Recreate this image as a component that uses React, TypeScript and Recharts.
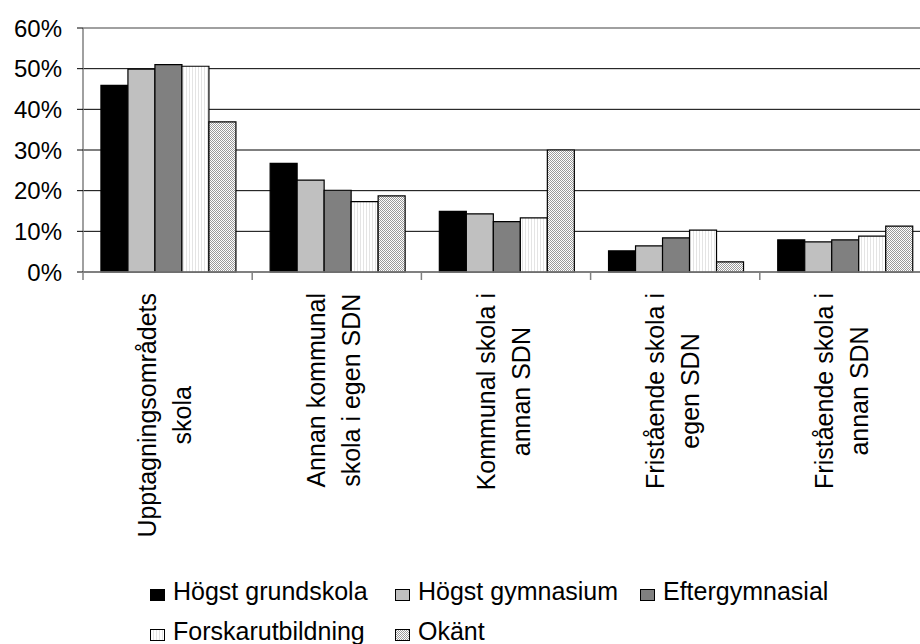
import React from 'react';
import { BarChart, Bar, XAxis, YAxis, CartesianGrid, ReferenceLine } from 'recharts';

const categories = [
  'Upptagningsområdets skola',
  'Annan kommunal skola i egen SDN',
  'Kommunal skola i annan SDN',
  'Fristående skola i egen SDN',
  'Fristående skola i annan SDN',
];

// how each category label is broken into lines
const categoryLines = [
  ['Upptagningsområdets', 'skola'],
  ['Annan kommunal', 'skola i egen SDN'],
  ['Kommunal skola i', 'annan SDN'],
  ['Fristående skola i', 'egen SDN'],
  ['Fristående skola i', 'annan SDN'],
];

const seriesNames = ['Högst grundskola', 'Högst gymnasium', 'Eftergymnasial', 'Forskarutbildning', 'Okänt'];

const grundskola = [45.9, 26.7, 14.9, 5.2, 7.9];
const gymnasium = [49.9, 22.6, 14.3, 6.4, 7.4];
const eftergymnasial = [51.0, 20.1, 12.4, 8.4, 7.9];
const forskarutbildning = [50.6, 17.3, 13.3, 10.3, 8.8];
const okant = [36.9, 18.7, 30.0, 2.5, 11.3];

const yTicks = [0, 10, 20, 30, 40, 50, 60];

const seriesFills = ['#000000', '#c0c0c0', '#808080', 'url(#stripes)', 'url(#checker)'];
const seriesKeys = ['s0', 's1', 's2', 's3', 's4'];

const data = categories.map((name, i) => ({
  name,
  idx: i,
  s0: grundskola[i],
  s1: gymnasium[i],
  s2: eftergymnasial[i],
  s3: forskarutbildning[i],
  s4: okant[i],
}));

const FONT = "'Liberation Sans', Arial, sans-serif";
const LABEL_SIZE = 25;

let measureCtx: CanvasRenderingContext2D | null = null;
function textWidth(s: string) {
  if (!measureCtx) {
    measureCtx = document.createElement('canvas').getContext('2d');
  }
  if (!measureCtx) return s.length * LABEL_SIZE * 0.5;
  measureCtx.font = `${LABEL_SIZE}px ${FONT}`;
  return measureCtx.measureText(s).width;
}

function CategoryTick(props: any) {
  const { x, y, payload } = props;
  const lines = categoryLines[payload.index] ?? [String(payload.value)];
  const half = payload.offset ?? 84.6;
  const maxW = Math.max(...lines.map(textWidth));
  const top = y + 21;
  const yc = top + maxW / 2;
  const spacing = 35;
  return (
    <g>
      <line x1={x - half} x2={x - half} y1={y} y2={y + 8} stroke="#808080" strokeWidth={1.5} />
      {lines.map((ln: string, i: number) => {
        const bx = x + (i - (lines.length - 1) / 2) * spacing + 6;
        return (
          <text
            key={i}
            transform={`translate(${bx}, ${yc}) rotate(-90)`}
            textAnchor="middle"
            fontSize={LABEL_SIZE}
            fontFamily={FONT}
            fill="#000"
          >
            {ln}
          </text>
        );
      })}
    </g>
  );
}

function LegendBox({ fill }: { fill: string }) {
  return (
    <svg width={15} height={12} style={{ display: 'block' }}>
      <rect x={0.5} y={0.5} width={14} height={11} fill={fill} stroke="#000" strokeWidth={1} />
    </svg>
  );
}

const legendFills = ['#000000', '#c0c0c0', '#808080', 'url(#lstripes)', 'url(#lchecker)'];

export default function App() {
  return (
    <div style={{ position: 'absolute', left: 0, top: 0, width: 920, height: 644, overflow: 'hidden', background: '#fff' }}>
      <BarChart
        width={940}
        height={560}
        data={data}
        margin={{ top: 28, right: 11, left: 0, bottom: 0 }}
        barCategoryGap="10.6%"
        barGap={0}
      >
        <defs>
          <pattern id="stripes" width={3} height={4} patternUnits="userSpaceOnUse">
            <rect width={3} height={4} fill="#ffffff" />
            <rect width={1} height={4} fill="#e4e4e4" />
          </pattern>
          <pattern id="checker" width={2} height={2} patternUnits="userSpaceOnUse">
            <rect width={2} height={2} fill="#ffffff" />
            <rect width={1} height={1} fill="#9a9a9a" />
            <rect x={1} y={1} width={1} height={1} fill="#9a9a9a" />
          </pattern>
        </defs>
        <CartesianGrid vertical={false} stroke="#000" strokeWidth={1} />
        <ReferenceLine y={60} stroke="#a0a0a0" strokeWidth={2} />
        <YAxis
          width={83}
          domain={[0, 60]}
          ticks={yTicks}
          interval={0}
          tickFormatter={(v) => `${v}%`}
          tick={{ fill: '#000', fontSize: 24, fontFamily: FONT }}
          axisLine={{ stroke: '#808080', strokeWidth: 1.5 }}
          tickLine={{ stroke: '#000' }}
          tickSize={6}
          tickMargin={15}
        />
        <XAxis
          dataKey="name"
          height={288}
          interval={0}
          tickLine={false}
          tickSize={0}
          tickMargin={0}
          axisLine={{ stroke: '#808080', strokeWidth: 1.5 }}
          tick={<CategoryTick />}
        />
        {seriesKeys.map((k, i) => (
          <Bar
            key={k}
            dataKey={k}
            name={seriesNames[i]}
            fill={seriesFills[i]}
            stroke="#000"
            strokeWidth={1.2}
            isAnimationActive={false}
          />
        ))}
      </BarChart>

      <svg width={0} height={0} style={{ position: 'absolute' }}>
        <defs>
          <pattern id="lstripes" width={3} height={4} patternUnits="userSpaceOnUse">
            <rect width={3} height={4} fill="#ffffff" />
            <rect width={1} height={4} fill="#e4e4e4" />
          </pattern>
          <pattern id="lchecker" width={2} height={2} patternUnits="userSpaceOnUse">
            <rect width={2} height={2} fill="#ffffff" />
            <rect width={1} height={1} fill="#9a9a9a" />
            <rect x={1} y={1} width={1} height={1} fill="#9a9a9a" />
          </pattern>
        </defs>
      </svg>

      {/* Legend */}
      {seriesNames.map((name, i) => {
        const col = i % 3;
        const row = Math.floor(i / 3);
        return (
          <div
            key={name}
            style={{
              position: 'absolute',
              left: 150 + col * 245,
              top: 577 + row * 40,
              height: 28,
              display: 'flex',
              alignItems: 'flex-start',
              fontFamily: FONT,
              fontSize: LABEL_SIZE,
              lineHeight: '28px',
              whiteSpace: 'nowrap',
              color: '#000',
            }}
          >
            <div style={{ marginTop: 12, marginRight: 8 }}>
              <LegendBox fill={legendFills[i]} />
            </div>
            <span>{name}</span>
          </div>
        );
      })}
    </div>
  );
}
